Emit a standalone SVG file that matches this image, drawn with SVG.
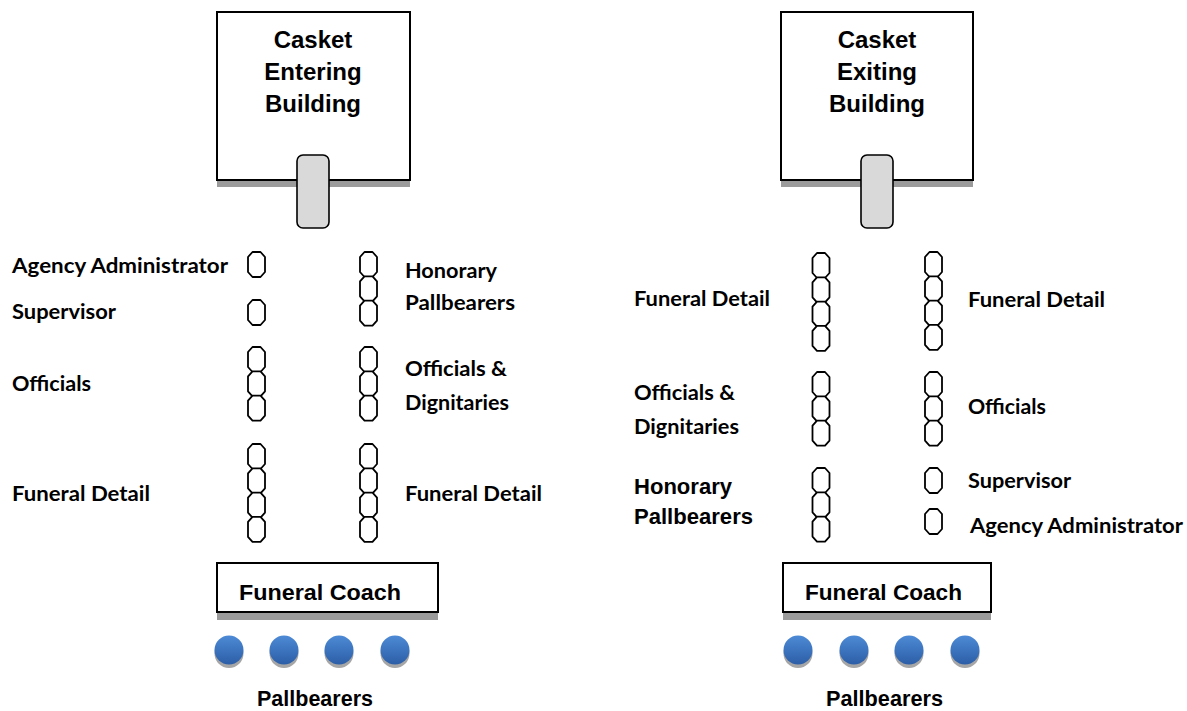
<svg xmlns="http://www.w3.org/2000/svg" xmlns:xlink="http://www.w3.org/1999/xlink" width="1187" height="711" viewBox="0 0 1187 711">
<style>
.bld{fill:#fff;stroke:#000;stroke-width:2}
.shd{fill:#9b9b9b}
.cas{fill:#d9d9d9;stroke:#000;stroke-width:1.6}
.ttl{font-family:"Liberation Sans",Arial,sans-serif;font-weight:bold;font-size:24px;fill:#000;text-anchor:middle}
.ar{font-family:"Liberation Sans",Arial,sans-serif;font-weight:bold;font-size:22px;fill:#000}
.lb{font-family:Lato,"Open Sans",sans-serif;font-weight:bold;font-size:21px;fill:#000}
.pp{fill:#fff;stroke:#000;stroke-width:1.8;stroke-linejoin:round}
</style>
<defs>
<path id="p" class="pp" d="M4.5,0 L12.5,0 L17,5 L17,20 L12.5,25 L4.5,25 L0,20 L0,5 Z"/>
<linearGradient id="bg" x1="0" y1="0" x2="0" y2="1">
<stop offset="0" stop-color="#4d8ad6"/>
<stop offset="1" stop-color="#2c5ea6"/>
</linearGradient>
<g id="pb">
<circle cx="0" cy="3.5" r="14.5" fill="#a6a6a6"/>
<circle cx="0" cy="0" r="14.5" fill="url(#bg)"/>
</g>
</defs>
<g id="connectors"/>

<!-- LEFT DIAGRAM -->
<g id="building-entering">
<rect class="shd" x="217" y="180" width="193" height="7"/>
<rect class="bld" x="217" y="12" width="193" height="168"/>
<text class="ttl" x="313" y="48">Casket</text>
<text class="ttl" x="313" y="80">Entering</text>
<text class="ttl" x="313" y="112">Building</text>
</g>
<g id="casket-entering">
<rect class="cas" x="297" y="155" width="32" height="73" rx="6"/>
</g>

<g id="l-agency-admin">
<use xlink:href="#p" x="248" y="252"/>
<text class="lb" x="12" y="273" textLength="216" lengthAdjust="spacingAndGlyphs">Agency Administrator</text>
</g>
<g id="l-supervisor">
<use xlink:href="#p" x="248" y="300"/>
<text class="lb" x="12" y="319" textLength="104" lengthAdjust="spacingAndGlyphs">Supervisor</text>
</g>
<g id="l-officials">
<use xlink:href="#p" x="248" y="347"/>
<use xlink:href="#p" x="248" y="371.3"/>
<use xlink:href="#p" x="248" y="395.6"/>
<text class="lb" x="12" y="391" textLength="79" lengthAdjust="spacingAndGlyphs">Officials</text>
</g>
<g id="l-funeral-detail-a">
<use xlink:href="#p" x="248" y="444"/>
<use xlink:href="#p" x="248" y="468.3"/>
<use xlink:href="#p" x="248" y="492.6"/>
<use xlink:href="#p" x="248" y="516.9"/>
<text class="lb" x="12" y="501" textLength="138" lengthAdjust="spacingAndGlyphs">Funeral Detail</text>
</g>
<g id="l-honorary">
<use xlink:href="#p" x="360" y="252"/>
<use xlink:href="#p" x="360" y="276.3"/>
<use xlink:href="#p" x="360" y="300.6"/>
<text class="lb" x="405" y="278" textLength="92" lengthAdjust="spacingAndGlyphs">Honorary</text>
<text class="lb" x="405" y="310" textLength="110" lengthAdjust="spacingAndGlyphs">Pallbearers</text>
</g>
<g id="l-officials-dignitaries">
<use xlink:href="#p" x="360" y="347"/>
<use xlink:href="#p" x="360" y="371.3"/>
<use xlink:href="#p" x="360" y="395.6"/>
<text class="lb" x="405" y="376" textLength="102" lengthAdjust="spacingAndGlyphs">Officials &amp;</text>
<text class="lb" x="405" y="410" textLength="104" lengthAdjust="spacingAndGlyphs">Dignitaries</text>
</g>
<g id="l-funeral-detail-b">
<use xlink:href="#p" x="360" y="444"/>
<use xlink:href="#p" x="360" y="468.3"/>
<use xlink:href="#p" x="360" y="492.6"/>
<use xlink:href="#p" x="360" y="516.9"/>
<text class="lb" x="405" y="501" textLength="137" lengthAdjust="spacingAndGlyphs">Funeral Detail</text>
</g>
<g id="l-funeral-coach">
<rect class="shd" x="217" y="612" width="221" height="8"/>
<rect class="bld" x="217" y="563" width="221" height="49"/>
<text class="ar" x="239" y="600" font-size="23" textLength="162" lengthAdjust="spacingAndGlyphs">Funeral  Coach</text>
</g>
<g id="l-pallbearers">
<use xlink:href="#pb" x="229" y="650"/>
<use xlink:href="#pb" x="284" y="650"/>
<use xlink:href="#pb" x="339" y="650"/>
<use xlink:href="#pb" x="395" y="650"/>
<text class="ar" x="257" y="706" font-size="21" textLength="116" lengthAdjust="spacingAndGlyphs">Pallbearers</text>
</g>

<!-- RIGHT DIAGRAM -->
<g id="building-exiting">
<rect class="shd" x="781" y="180" width="192" height="7"/>
<rect class="bld" x="781" y="12" width="192" height="168"/>
<text class="ttl" x="877" y="48">Casket</text>
<text class="ttl" x="877" y="80">Exiting</text>
<text class="ttl" x="877" y="112">Building</text>
</g>
<g id="casket-exiting">
<rect class="cas" x="861" y="155" width="32" height="73" rx="6"/>
</g>

<g id="r-funeral-detail-a">
<use xlink:href="#p" x="812.5" y="253"/>
<use xlink:href="#p" x="812.5" y="277.3"/>
<use xlink:href="#p" x="812.5" y="301.6"/>
<use xlink:href="#p" x="812.5" y="325.9"/>
<text class="lb" x="634" y="306" textLength="136" lengthAdjust="spacingAndGlyphs">Funeral Detail</text>
</g>
<g id="r-officials-dignitaries">
<use xlink:href="#p" x="812.5" y="372"/>
<use xlink:href="#p" x="812.5" y="396.3"/>
<use xlink:href="#p" x="812.5" y="420.6"/>
<text class="lb" x="634" y="400" textLength="101" lengthAdjust="spacingAndGlyphs">Officials &amp;</text>
<text class="lb" x="634" y="434" textLength="105" lengthAdjust="spacingAndGlyphs">Dignitaries</text>
</g>
<g id="r-honorary">
<use xlink:href="#p" x="812.5" y="468"/>
<use xlink:href="#p" x="812.5" y="492.3"/>
<use xlink:href="#p" x="812.5" y="516.6"/>
<text class="ar" x="634" y="494" textLength="98" lengthAdjust="spacingAndGlyphs">Honorary</text>
<text class="ar" x="634" y="524" textLength="119" lengthAdjust="spacingAndGlyphs">Pallbearers</text>
</g>
<g id="r-funeral-detail-b">
<use xlink:href="#p" x="925" y="252"/>
<use xlink:href="#p" x="925" y="276.3"/>
<use xlink:href="#p" x="925" y="300.6"/>
<use xlink:href="#p" x="925" y="324.9"/>
<text class="lb" x="968" y="307" textLength="137" lengthAdjust="spacingAndGlyphs">Funeral Detail</text>
</g>
<g id="r-officials">
<use xlink:href="#p" x="925" y="372"/>
<use xlink:href="#p" x="925" y="396.3"/>
<use xlink:href="#p" x="925" y="420.6"/>
<text class="lb" x="968" y="414" textLength="78" lengthAdjust="spacingAndGlyphs">Officials</text>
</g>
<g id="r-supervisor">
<use xlink:href="#p" x="925" y="468"/>
<text class="lb" x="968" y="488" textLength="103" lengthAdjust="spacingAndGlyphs">Supervisor</text>
</g>
<g id="r-agency-admin">
<use xlink:href="#p" x="925" y="509"/>
<text class="lb" x="970" y="533" textLength="213" lengthAdjust="spacingAndGlyphs">Agency Administrator</text>
</g>
<g id="r-funeral-coach">
<rect class="shd" x="783" y="612" width="208" height="8"/>
<rect class="bld" x="783" y="563" width="208" height="49"/>
<text class="ar" x="805" y="600" font-size="23" textLength="157" lengthAdjust="spacingAndGlyphs">Funeral Coach</text>
</g>
<g id="r-pallbearers">
<use xlink:href="#pb" x="798" y="650"/>
<use xlink:href="#pb" x="854" y="650"/>
<use xlink:href="#pb" x="909" y="650"/>
<use xlink:href="#pb" x="965" y="650"/>
<text class="ar" x="826" y="706" font-size="21" textLength="117" lengthAdjust="spacingAndGlyphs">Pallbearers</text>
</g>
</svg>
